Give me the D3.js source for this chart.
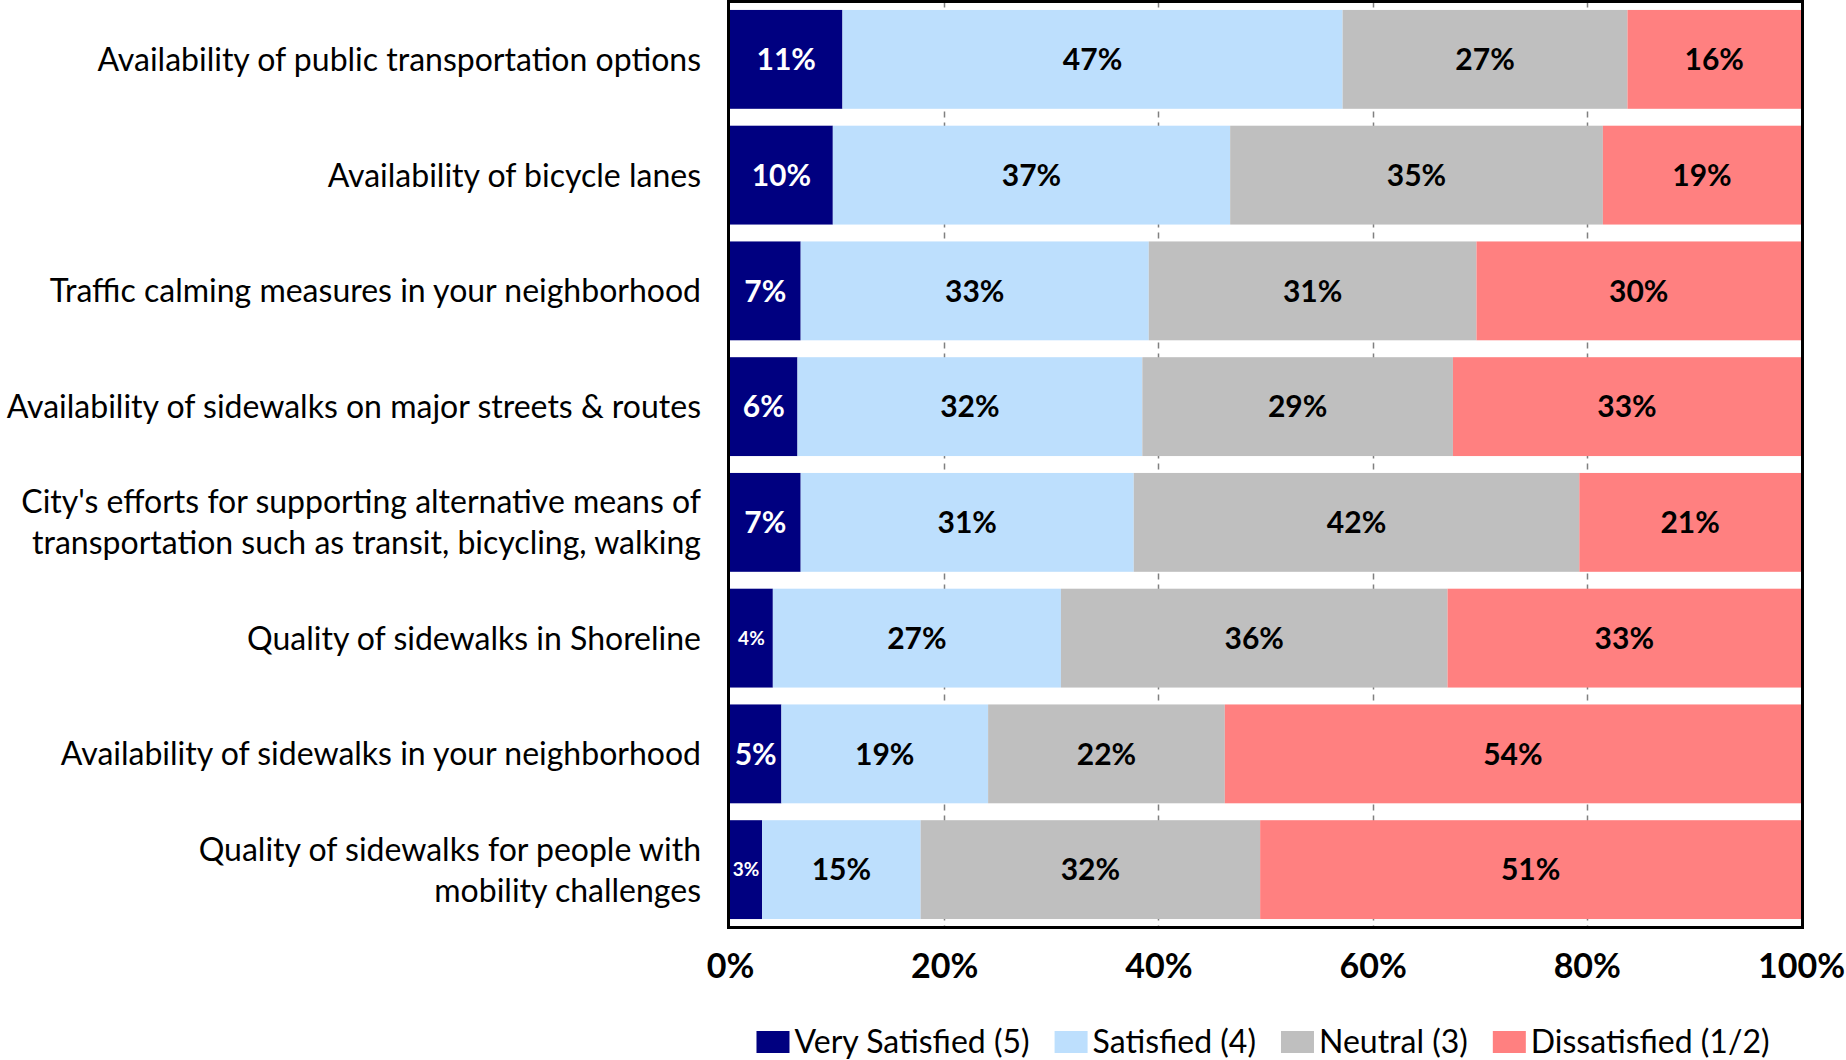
<!DOCTYPE html>
<html><head><meta charset="utf-8">
<script src="https://cdn.jsdelivr.net/npm/d3@7"></script>
<style>html,body{margin:0;padding:0;background:#fff;} svg{display:block;font-family:Lato,"Open Sans",sans-serif;}</style>
</head><body><svg id="chart" width="1846" height="1060"></svg>
<script>
const categories = [
  "Availability of public transportation options",
  "Availability of bicycle lanes",
  "Traffic calming measures in your neighborhood",
  "Availability of sidewalks on major streets & routes",
  "City's efforts for supporting alternative means of\ntransportation such as transit, bicycling, walking",
  "Quality of sidewalks in Shoreline",
  "Availability of sidewalks in your neighborhood",
  "Quality of sidewalks for people with\nmobility challenges"
];
const seriesNames = ["Very Satisfied (5)", "Satisfied (4)", "Neutral (3)", "Dissatisfied (1/2)"];
const verySatisfied = [10.5, 9.6, 6.6, 6.3, 6.6, 4.0, 4.8, 3.0];
const satisfied     = [46.7, 37.1, 32.5, 32.2, 31.1, 26.9, 19.3, 14.8];
const neutral       = [26.6, 34.8, 30.6, 29.0, 41.6, 36.1, 22.1, 31.7];
const dissatisfied  = [16.2, 18.5, 30.3, 32.5, 20.7, 33.0, 53.8, 50.5];
const tickValues = [0, 20, 40, 60, 80, 100];
const tickLabels = ["0%", "20%", "40%", "60%", "80%", "100%"];
const colors = ["#000080", "#BDDFFD", "#BFBFBF", "#FF8080"];

const seriesValues = [verySatisfied, satisfied, neutral, dissatisfied];
const keys = ["vs", "s", "n", "d"];
const rows = categories.map((c, i) => {
  const r = {cat: c};
  keys.forEach((k, j) => r[k] = seriesValues[j][i]);
  return r;
});

const svg = d3.select("#chart");
const F = "Lato, 'Open Sans', sans-serif";

const x = d3.scaleLinear().domain([0, 100]).range([730, 1801]);
const y = d3.scaleBand().domain(categories).range([1.5, 927.5]).paddingInner(0.146).paddingOuter(0.073);

// gridlines (behind bars)
svg.append("g").selectAll("line").data(tickValues.slice(1, -1)).join("line")
  .attr("x1", d => Math.round(x(d)) + 0.5).attr("x2", d => Math.round(x(d)) + 0.5)
  .attr("y1", 1.5).attr("y2", 927.5)
  .attr("stroke", "#808080").attr("stroke-width", 1.5).attr("stroke-dasharray", "6,5");

const stacked = d3.stack().keys(keys)(rows);

const gBars = svg.append("g");
stacked.forEach((layer, li) => {
  gBars.append("g").attr("fill", colors[li]).selectAll("rect").data(layer).join("rect")
    .attr("x", d => x(d[0])).attr("width", d => x(d[1]) - x(d[0]))
    .attr("y", d => y(d.data.cat)).attr("height", y.bandwidth());
});

// value labels
const gLab = svg.append("g").attr("font-family", F).attr("font-weight", "bold").attr("text-anchor", "middle");
stacked.forEach((layer, li) => {
  gLab.append("g").selectAll("text").data(layer).join("text")
    .attr("x", d => (x(d[0]) + x(d[1])) / 2)
    .attr("y", d => y(d.data.cat) + y.bandwidth() / 2)
    .attr("dy", "0.36em")
    .attr("font-size", d => Math.round(d[1] - d[0]) < 5 ? 19 : 30)
    .attr("fill", li === 0 ? "#fff" : "#000")
    .text(d => Math.round(d[1] - d[0]) + "%");
});

// frame
svg.append("rect").attr("x", 728.5).attr("y", 1.5).attr("width", 1074).attr("height", 926)
  .attr("fill", "none").attr("stroke", "#000").attr("stroke-width", 3);

// x axis tick labels
const xAxis = d3.axisBottom(x).tickValues(tickValues).tickFormat((d, i) => tickLabels[i]).tickSize(0).tickPadding(0);
const ga = svg.append("g").attr("transform", "translate(0,978)").call(xAxis);
ga.select(".domain").remove();
ga.selectAll("text").attr("font-family", F).attr("font-weight", "bold").attr("font-size", 34)
  .attr("fill", "#000").attr("dy", 0).attr("y", 0);

// category labels
const gCat = svg.append("g").attr("font-family", F).attr("font-size", 32).attr("text-anchor", "end").attr("fill", "#000");
categories.forEach(c => {
  const lines = c.split("\n");
  const cy = y(c) + y.bandwidth() / 2;
  const lh = 41;
  const t = gCat.append("text").attr("x", 701).attr("y", cy - (lines.length - 1) * lh / 2);
  lines.forEach((ln, i) => {
    t.append("tspan").attr("x", 701).attr("dy", i === 0 ? "0.36em" : lh).text(ln);
  });
});

// legend
const gLeg = svg.append("g").attr("font-family", F).attr("font-size", 32);
const items = [];
let cx = 0;
seriesNames.forEach((n, i) => {
  const g = gLeg.append("g");
  g.append("rect").attr("x", 0).attr("y", -11).attr("width", 33).attr("height", 22).attr("fill", colors[i]);
  const t = g.append("text").attr("x", 38).attr("y", 11).text(n).attr("fill", "#000");
  const w = t.node().getComputedTextLength();
  items.push({g, off: cx});
  cx += 38 + w + 25;
});
const total = cx - 25;
const startX = 1263 - total / 2;
items.forEach(it => it.g.attr("transform", `translate(${startX + it.off},1042)`));
</script>
</body></html>
